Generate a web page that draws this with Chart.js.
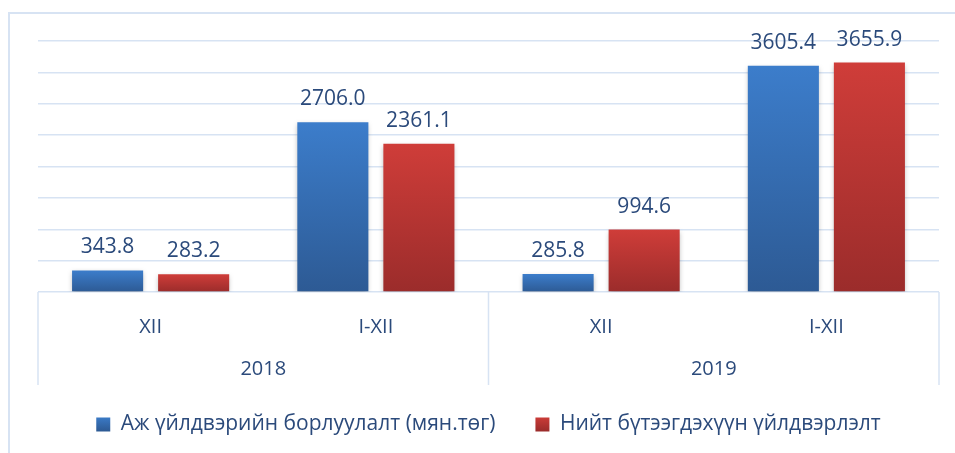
<!DOCTYPE html>
<html>
<head>
<meta charset="utf-8">
<script src="https://cdn.jsdelivr.net/npm/chart.js@4.4.1/dist/chart.umd.min.js"></script>
<style>
  html, body { margin: 0; padding: 0; background: #fff; }
  canvas { display: block; }
</style>
</head>
<body>
<canvas id="chart" width="955" height="453"></canvas>
<script>
// data
const periods = ["XII", "I-XII", "XII", "I-XII"];
const years = ["2018", "2019"];
const sales = [343.8, 2706.0, 285.8, 3605.4];
const production = [283.2, 2361.1, 994.6, 3655.9];
const seriesNames = ["Аж үйлдвэрийн борлуулалт (мян.төг)", "Нийт бүтээгдэхүүн үйлдвэрлэлт"];

const textColor = "#2b4a7b";
const lineColor = "#d7e3f3";
const font = "'Open Sans', sans-serif";
const fills = [["#3c7dcb", "#2d5a94"], ["#cf3d39", "#9b2c2b"]];

// vertical gradient per bar, like the excel fill
function barFill(top, bottom) {
  return function (c) {
    if (c.type !== "data") return top;
    const chart = c.chart;
    if (!chart.chartArea) return top;
    const y = chart.scales.y;
    const y0 = y.getPixelForValue(c.parsed.y);
    const y1 = y.getPixelForValue(0);
    const g = chart.ctx.createLinearGradient(0, y0, 0, y1);
    g.addColorStop(0, top);
    g.addColorStop(1, bottom);
    return g;
  };
}

const frame = {
  id: "frame",
  beforeDraw(chart) {
    const ctx = chart.ctx;
    ctx.save();
    ctx.strokeStyle = lineColor;
    ctx.lineWidth = 2;
    ctx.beginPath();
    ctx.moveTo(9, 453);
    ctx.lineTo(9, 13);
    ctx.lineTo(955, 13);
    ctx.stroke();
    ctx.restore();
  }
};

const shadow = {
  id: "shadow",
  beforeDatasetsDraw(chart) {
    const ctx = chart.ctx;
    ctx.save();
    ctx.shadowColor = "rgba(0,0,0,0.28)";
    ctx.shadowBlur = 5;
    ctx.shadowOffsetY = 2;
  },
  afterDatasetsDraw(chart) {
    chart.ctx.restore();
  }
};

const valueLabels = {
  id: "valueLabels",
  afterDatasetsDraw(chart) {
    const ctx = chart.ctx;
    ctx.save();
    ctx.fillStyle = textColor;
    ctx.font = "21px " + font;
    ctx.textAlign = "center";
    ctx.textBaseline = "alphabetic";
    chart.data.datasets.forEach((ds, i) => {
      chart.getDatasetMeta(i).data.forEach((bar, j) => {
        ctx.fillText(ds.data[j].toFixed(1), bar.x, bar.y - 17);
      });
    });
    ctx.restore();
  }
};

// second level of the category axis: year labels and separators
const yearAxis = {
  id: "yearAxis",
  afterDraw(chart) {
    const ctx = chart.ctx;
    const x = chart.scales.x;
    const seps = [x.left, (x.getPixelForValue(1) + x.getPixelForValue(2)) / 2, x.right];
    ctx.save();
    ctx.strokeStyle = lineColor;
    ctx.lineWidth = 1.5;
    seps.forEach(px => {
      ctx.beginPath();
      ctx.moveTo(px, x.top);
      ctx.lineTo(px, 385);
      ctx.stroke();
    });
    ctx.fillStyle = textColor;
    ctx.font = "20px " + font;
    ctx.textAlign = "center";
    ctx.textBaseline = "middle";
    years.forEach((yr, k) => {
      const cx = (x.getPixelForValue(2 * k) + x.getPixelForValue(2 * k + 1)) / 2;
      ctx.fillText(yr, cx, 369);
    });
    ctx.restore();
  }
};

new Chart(document.getElementById("chart"), {
  type: "bar",
  data: {
    labels: periods,
    datasets: [
      { label: seriesNames[0], data: sales, backgroundColor: barFill(fills[0][0], fills[0][1]) },
      { label: seriesNames[1], data: production, backgroundColor: barFill(fills[1][0], fills[1][1]) }
    ]
  },
  options: {
    responsive: false,
    animation: false,
    categoryPercentage: 0.764,
    barPercentage: 0.826,
    layout: { padding: { left: 38, right: 16, top: 41, bottom: 8 } },
    plugins: {
      tooltip: { enabled: false },
      legend: {
        position: "bottom",
        labels: {
          boxWidth: 14,
          boxHeight: 14,
          padding: 40,
          color: textColor,
          font: { family: font, size: 21 },
          generateLabels(chart) {
            const items = Chart.defaults.plugins.legend.labels.generateLabels(chart);
            items.forEach((it, i) => {
              const g = chart.ctx.createLinearGradient(0, 416, 0, 431);
              g.addColorStop(0, fills[i][0]);
              g.addColorStop(1, fills[i][1]);
              it.fillStyle = g;
              it.lineWidth = 0;
            });
            return items;
          }
        }
      }
    },
    scales: {
      x: {
        grid: { display: false },
        border: { display: false },
        ticks: { color: textColor, font: { family: font, size: 20 }, padding: 15 },
        afterFit(s) { s.height = 82; }
      },
      y: {
        min: 0,
        max: 4000,
        ticks: { stepSize: 500, display: false },
        grid: { color: lineColor, lineWidth: 1.5, drawTicks: false },
        border: { display: false },
        afterFit(s) { s.width = 0; }
      }
    }
  },
  plugins: [frame, shadow, valueLabels, yearAxis]
});
</script>
</body>
</html>
